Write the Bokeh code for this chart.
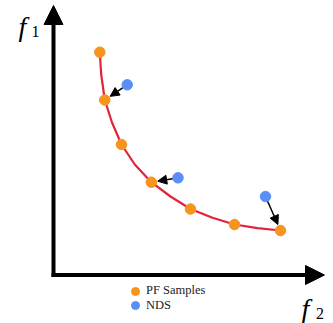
import numpy as np
from bokeh.plotting import figure
from bokeh.models import Range1d, Arrow, NormalHead, Label, Legend, LegendItem
from bokeh.embed import file_html
from bokeh.resources import INLINE

# ---- data (units: f2 horizontal, f1 vertical) ----
pf_f2 = [0.463, 0.513, 0.680, 0.978, 1.370, 1.810, 2.270]
pf_f1 = [2.228, 1.750, 1.305, 0.928, 0.660, 0.505, 0.445]

nds_f2 = [0.737, 1.245, 2.120]
nds_f1 = [1.902, 0.972, 0.785]
nds_target = [1, 3, 6]  # index of PF sample each NDS point maps to

front_f2 = [0.463, 0.477, 0.513, 0.585, 0.680, 0.813, 0.978, 1.170, 1.370, 1.590, 1.810, 2.040, 2.270]
front_f1 = [2.228, 2.005, 1.750, 1.525, 1.305, 1.105, 0.928, 0.785, 0.660, 0.572, 0.505, 0.468, 0.445]

legend_labels = ["PF Samples", "NDS"]

ORANGE = "#f7941d"
BLUE = "#5b8ef5"
RED = "#e2233a"

W, H = 333, 323
SCALE = 100.0           # px per data unit
OX, OY = 53.0, 274.5    # origin in frame px (from top-left of frame)

def fx(px):  # frame px -> data x
    return (px - OX) / SCALE

def fy(py):  # frame px (from top) -> data y
    return (OY - py) / SCALE

p = figure(width=W, height=H, output_backend="svg", toolbar_location=None,
           x_range=Range1d(fx(0), fx(W)), y_range=Range1d(fy(H), fy(0)),
           min_border=0, x_axis_location=None, y_axis_location=None,
           outline_line_color=None)
p.grid.visible = False
p.background_fill_color = "white"

# axes as arrows
AX_W = 4
half = AX_W / 2 / SCALE
p.add_layout(Arrow(x_start=0, y_start=-half, x_end=0, y_end=fy(5),
                   line_width=AX_W, line_color="black",
                   end=NormalHead(size=19, fill_color="black", line_color="black", line_width=1)))
p.add_layout(Arrow(x_start=-half, y_start=0, x_end=fx(324), y_end=0,
                   line_width=AX_W, line_color="black",
                   end=NormalHead(size=19, fill_color="black", line_color="black", line_width=1)))

# Pareto front curve
p.line(front_f2, front_f1, line_color=RED, line_width=2.2)

pf = p.scatter(pf_f2, pf_f1, size=10.5, fill_color=ORANGE, line_color=ORANGE)
nds = p.scatter(nds_f2, nds_f1, size=10.5, fill_color=BLUE, line_color=BLUE)

# arrows from NDS to PF samples, shortened by marker radii
gap_s, gap_e = 5.5 / SCALE, 6.5 / SCALE
for i, t in enumerate(nds_target):
    x0, y0 = nds_f2[i], nds_f1[i]
    x1, y1 = pf_f2[t], pf_f1[t]
    d = np.hypot(x1 - x0, y1 - y0)
    ux, uy = (x1 - x0) / d, (y1 - y0) / d
    p.add_layout(Arrow(x_start=x0 + ux * gap_s, y_start=y0 + uy * gap_s,
                       x_end=x1 - ux * gap_e, y_end=y1 - uy * gap_e,
                       line_width=1.5, line_color="black",
                       end=NormalHead(size=9, fill_color="black", line_color="black", line_width=1)))

# axis labels
FONT = "Liberation Serif"
def add_label(txt, px, py, size, style):
    p.add_layout(Label(x=fx(px), y=fy(py), text=txt, text_font=FONT,
                       text_font_size=f"{size}px", text_font_style=style,
                       text_baseline="alphabetic", text_align="left", text_color="black"))

add_label("f", 18, 26, 28, "italic")
add_label("1", 31, 30.5, 16, "normal")
add_label("f", 301, 308, 28, "italic")
add_label("2", 315.5, 313, 16, "normal")

# legend: one entry per Legend so that rows sit close together
for lab, r, loc in zip(legend_labels, [pf, nds], [(125, 22.5), (125, 8)]):
    lg = Legend(items=[LegendItem(label=lab, renderers=[r])],
                location=loc, padding=0, margin=0,
                glyph_width=20, glyph_height=20, label_standoff=1,
                label_text_font=FONT, label_text_font_size="12.5px",
                label_text_color="#222222",
                border_line_color=None, background_fill_alpha=0)
    p.add_layout(lg, "center")

open("out.html", "w").write(file_html(p, INLINE))
